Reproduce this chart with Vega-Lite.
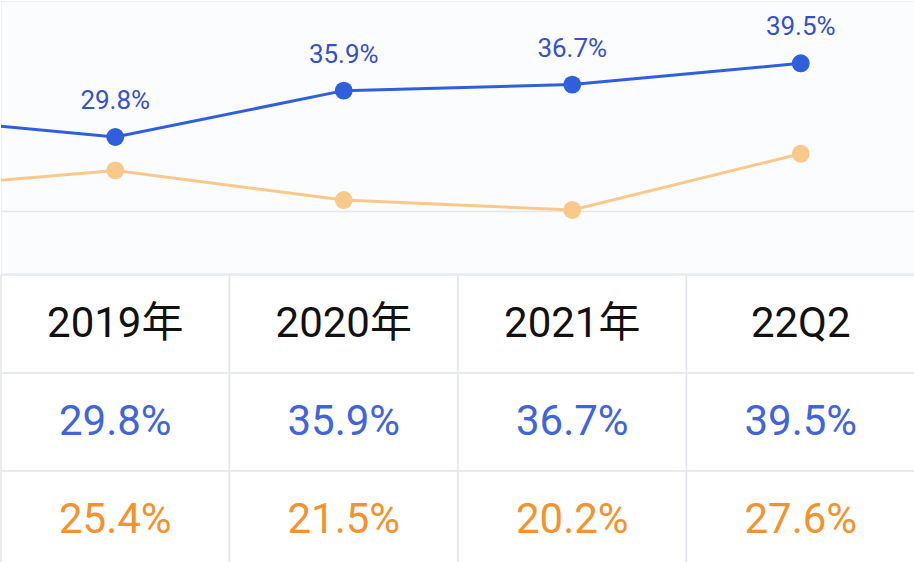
{
  "$schema": "https://vega.github.io/schema/vega-lite/v6.json",
  "padding": 0,
  "spacing": 0,
  "background": "#ffffff",
  "config": {"view": {"stroke": null}},
  "resolve": {"scale": {"color": "independent"}},
  "datasets": {
    "pts": [
      {"i": -1, "s": "blue", "v": 32.6, "label": ""},
      {"i": 0, "s": "blue", "v": 29.8, "label": "29.8%"},
      {"i": 1, "s": "blue", "v": 35.9, "label": "35.9%"},
      {"i": 2, "s": "blue", "v": 36.7, "label": "36.7%"},
      {"i": 3, "s": "blue", "v": 39.5, "label": "39.5%"},
      {"i": -1, "s": "orange", "v": 22.8, "label": ""},
      {"i": 0, "s": "orange", "v": 25.4, "label": "25.4%"},
      {"i": 1, "s": "orange", "v": 21.5, "label": "21.5%"},
      {"i": 2, "s": "orange", "v": 20.2, "label": "20.2%"},
      {"i": 3, "s": "orange", "v": 27.6, "label": "27.6%"}
    ],
    "cells": [
      {"col": "2019年", "r": "h", "t": "2019年"},
      {"col": "2020年", "r": "h", "t": "2020年"},
      {"col": "2021年", "r": "h", "t": "2021年"},
      {"col": "22Q2", "r": "h", "t": "22Q2"},
      {"col": "2019年", "r": "a", "t": "29.8%"},
      {"col": "2020年", "r": "a", "t": "35.9%"},
      {"col": "2021年", "r": "a", "t": "36.7%"},
      {"col": "22Q2", "r": "a", "t": "39.5%"},
      {"col": "2019年", "r": "b", "t": "25.4%"},
      {"col": "2020年", "r": "b", "t": "21.5%"},
      {"col": "2021年", "r": "b", "t": "20.2%"},
      {"col": "22Q2", "r": "b", "t": "27.6%"}
    ]
  },
  "vconcat": [
    {
      "width": 914,
      "height": 272,
      "view": {"fill": "#fbfcfe", "stroke": "#eceef3"},
      "data": {"name": "pts"},
      "encoding": {
        "x": {"field": "i", "type": "quantitative", "scale": {"domain": [-0.5, 3.5], "nice": false, "zero": false}, "axis": null},
        "y": {"field": "v", "type": "quantitative", "scale": {"domain": [11.9, 47.7], "nice": false, "zero": false},
              "axis": {"values": [20], "grid": true, "gridColor": "#e3e6ec", "gridWidth": 1.5, "labels": false, "ticks": false, "domain": false, "title": null}},
        "color": {"field": "s", "type": "nominal", "scale": {"domain": ["blue", "orange"], "range": ["#2f5fdb", "#f9c98b"]}, "legend": null}
      },
      "layer": [
        {"mark": {"type": "line", "strokeWidth": 3, "clip": true}},
        {"transform": [{"filter": "datum.i >= 0"}], "mark": {"type": "point", "filled": true, "size": 320, "opacity": 1}},
        {"transform": [{"filter": "datum.i >= 0 && datum.s == 'blue'"}],
         "mark": {"type": "text", "dy": -36, "fontSize": 26, "font": "Roboto"},
         "encoding": {"text": {"field": "label"}, "color": {"value": "#3550c8"}}}
      ]
    },
    {
      "width": 914,
      "height": 294,
      "data": {"name": "cells"},
      "encoding": {
        "x": {"field": "col", "type": "nominal", "sort": null, "scale": {"paddingInner": 0, "paddingOuter": 0}, "axis": null},
        "y": {"field": "r", "type": "nominal", "sort": null, "scale": {"domain": ["h", "a", "b"], "paddingInner": 0, "paddingOuter": 0}, "axis": null}
      },
      "layer": [
        {"mark": {"type": "rect", "fill": "#ffffff", "stroke": "#e3e6ec", "strokeWidth": 1.5}},
        {"mark": {"type": "text", "fontSize": 42, "font": "Roboto, 'Noto Sans CJK SC'"},
         "encoding": {"text": {"field": "t"},
                      "color": {"field": "r", "type": "nominal", "scale": {"domain": ["h", "a", "b"], "range": ["#111111", "#3f64dc", "#f29330"]}, "legend": null}}}
      ]
    }
  ]
}
